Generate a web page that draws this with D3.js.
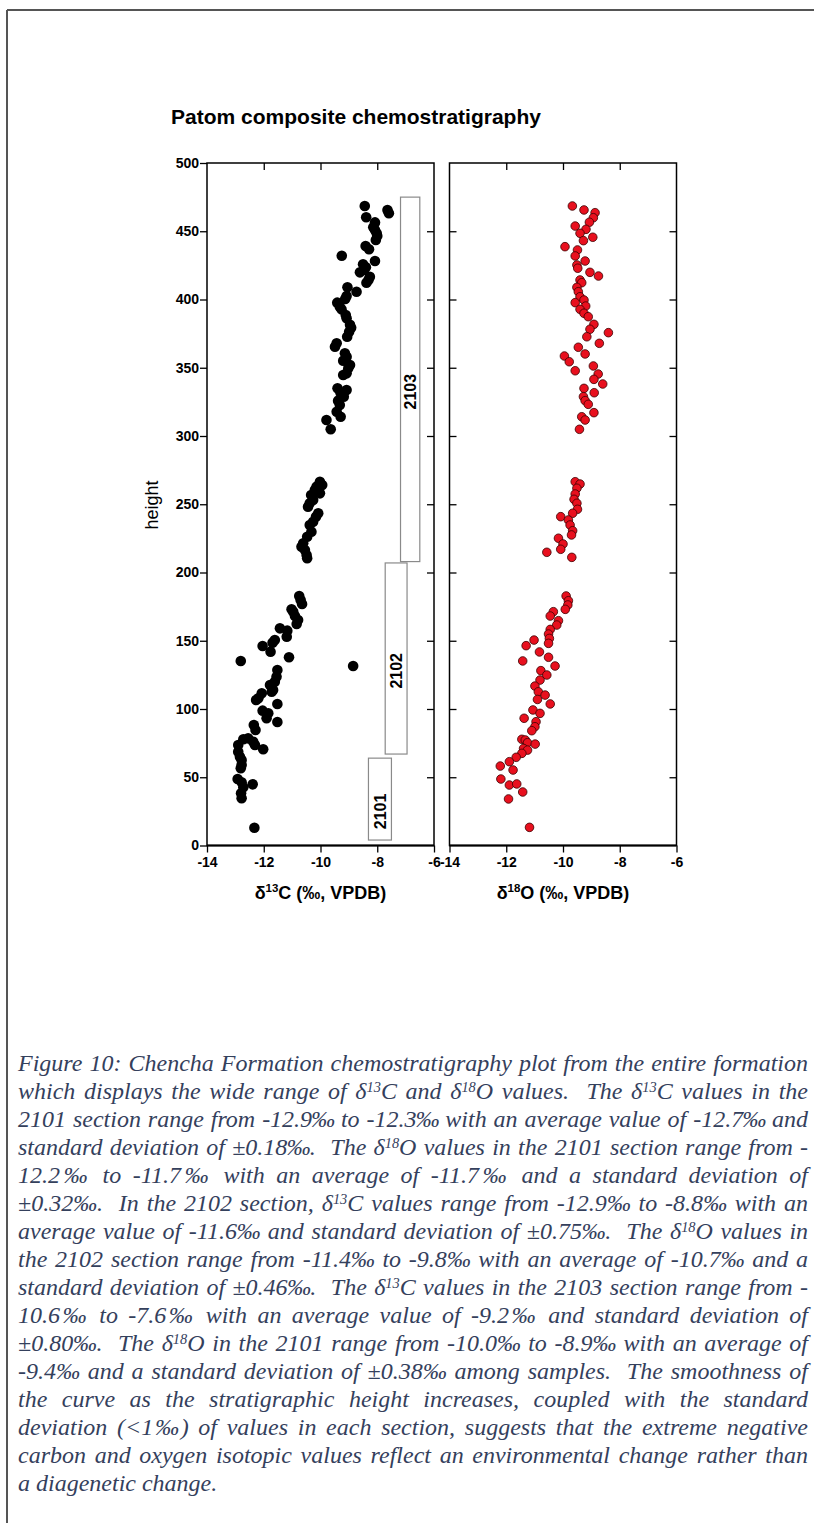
<!DOCTYPE html>
<html>
<head>
<meta charset="utf-8">
<script src="https://cdn.jsdelivr.net/npm/d3@7"></script>
<style>
body { margin: 0; background: #fff; }
.page { position: relative; width: 814px; height: 1523px; overflow: hidden; background: #fff; }
svg { position: absolute; left: 0; top: 0; }
.caption { position: absolute; left: 18px; top: 1049px; width: 790px;
  font-family: "Liberation Serif", "Times New Roman", serif; font-style: italic;
  font-size: 24px; line-height: 28px; color: #34405c; }
.caption div { white-space: nowrap; }
.caption div.just { white-space: normal; text-align: justify; text-align-last: justify; }
.caption div.last { white-space: normal; text-align-last: left; }
.caption sup { font-size: 0.6em; line-height: 0; vertical-align: 0.5em; }
.caption .pm { margin: 0 -2px; }
</style>
</head>
<body>
<div class="page">
  <svg id="chart" width="814" height="1523"></svg>
  <div class="caption" id="caption"></div>
</div>
<script>
//data: [height, per mil]//
let carbonHeight = [468.5, 465.6, 463.2, 460.3, 456.5, 452.9, 450.9, 448.5, 446.5, 443.6, 439.2, 436.8, 432.1, 428.2, 425.8, 423.6, 421.6, 419.9, 416.7, 414.3, 412.3, 408.9, 405.7, 402.6, 400.4, 397.7, 394.7, 392.8, 388.6, 386.2, 381.5, 379.3, 376.4, 372.7, 367.9, 365.4, 360.6, 358.1, 355.2, 352.0, 349.6, 345.9, 344.7, 335.0, 331.3, 328.8, 333.7, 325.9, 322.7, 317.8, 314.1, 311.7, 304.9,
  266.5, 264.1, 262.9, 260.4, 258.0, 256.8, 253.1, 250.7, 248.2, 243.4, 240.9, 237.2, 234.8, 229.9, 226.2, 221.4, 218.9, 216.5, 212.8, 210.4,
  182.8, 179.9, 176.9, 173.0, 171.3, 168.1, 165.2, 162.3, 159.1, 157.4, 153.0, 150.5, 148.6, 146.2, 142.0, 137.9, 135.2, 131.5, 128.6, 123.7, 120.0, 117.6, 113.9, 112.7, 111.5, 107.8, 106.6, 103.7, 98.8, 96.8, 93.2, 90.5, 88.3, 84.6, 78.5, 77.8, 76.0, 73.6, 73.6, 70.5, 68.7, 65.1, 62.6, 59.0, 56.6, 48.7, 46.3, 44.8, 42.6, 38.2, 34.6, 13.0];
let carbonValue = [-8.44, -7.64, -7.59, -8.39, -8.08, -8.14, -8.08, -8.02, -8.00, -8.05, -8.41, -8.29, -9.25, -8.08, -8.50, -8.40, -8.47, -8.61, -8.26, -8.31, -8.38, -9.05, -8.73, -9.08, -9.13, -9.41, -9.32, -9.26, -9.11, -9.08, -8.96, -8.92, -8.99, -9.06, -9.43, -9.49, -9.14, -9.08, -9.20, -8.96, -9.02, -9.08, -9.20, -9.40, -9.29, -9.18, -9.08, -9.38, -9.32, -9.43, -9.29, -9.79, -9.64,
  -10.02, -9.94, -10.14, -10.20, -10.02, -10.33, -10.26, -10.38, -10.44, -10.08, -10.16, -10.26, -10.38, -10.32, -10.47, -10.61, -10.67, -10.55, -10.49, -10.47,
  -10.75, -10.70, -10.65, -11.02, -10.96, -10.90, -10.79, -10.84, -11.43, -11.17, -11.19, -11.61, -11.69, -12.04, -11.76, -11.11, -12.81, -8.85, -11.52, -11.55, -11.61, -11.78, -11.67, -11.72, -12.07, -12.19, -12.27, -11.52, -12.04, -11.84, -11.90, -11.52, -12.35, -12.29, -12.55, -12.72, -12.37, -12.90, -12.31, -12.02, -12.90, -12.84, -12.78, -12.78, -12.81, -12.92, -12.78, -12.39, -12.72, -12.80, -12.78, -12.33];

let oxygenHeight = [468.5, 465.6, 463.6, 459.9, 456.6, 453.8, 451.4, 448.5, 445.6, 443.1, 438.7, 436.3, 431.9, 428.2, 425.3, 422.9, 419.9, 417.2, 414.3, 412.3, 408.9, 405.7, 402.0, 399.6, 397.7, 395.2, 392.8, 389.9, 387.4, 381.8, 378.2, 375.7, 372.7, 367.9, 365.0, 360.1, 358.6, 354.4, 347.8, 351.3, 345.4, 341.5, 338.1, 334.9, 331.7, 328.8, 325.9, 323.2, 317.1, 314.1, 311.7, 304.9,
  266.5, 264.8, 261.7, 257.5, 253.6, 250.7, 246.3, 243.4, 240.9, 238.5, 234.8, 230.6, 227.5, 225.1, 220.9, 217.0, 214.8, 211.1,
  182.8, 179.3, 176.2, 173.0, 171.3, 168.1, 164.7, 161.5, 158.3, 154.9, 151.7, 148.1, 150.5, 146.4, 141.8, 137.9, 135.2, 131.5, 128.1, 124.9, 121.2, 116.8, 112.6, 110.2, 107.0, 103.7, 99.3, 96.8, 93.2, 90.7, 87.0, 84.1, 77.8, 77.3, 75.3, 74.3, 71.1, 69.9, 67.5, 64.6, 61.4, 58.2, 55.3, 48.7, 44.3, 45.1, 39.2, 34.1, 13.3];
let oxygenValue = [-9.67, -9.26, -8.87, -8.93, -9.07, -9.57, -9.19, -9.40, -8.95, -9.28, -9.93, -9.49, -9.57, -9.22, -9.51, -9.48, -9.05, -8.75, -9.40, -9.34, -9.51, -9.46, -9.40, -9.26, -9.57, -9.20, -9.40, -9.26, -9.11, -8.91, -9.05, -8.40, -9.16, -8.72, -9.46, -9.22, -9.95, -9.78, -9.57, -8.93, -8.76, -8.91, -8.60, -9.26, -8.90, -9.28, -9.22, -9.11, -8.91, -9.34, -9.22, -9.42,
  -9.57, -9.40, -9.51, -9.57, -9.61, -9.51, -9.49, -9.66, -10.08, -9.81, -9.75, -9.66, -9.70, -10.16, -10.00, -10.08, -10.57, -9.69,
  -9.89, -9.81, -9.83, -9.92, -10.34, -10.45, -10.16, -10.22, -10.45, -10.51, -10.48, -10.51, -11.02, -11.30, -10.83, -10.51, -11.42, -10.28, -10.78, -10.57, -10.81, -10.99, -10.87, -10.63, -10.90, -10.45, -11.06, -10.81, -11.37, -10.95, -10.99, -11.10, -11.45, -11.33, -11.25, -10.98, -11.39, -11.25, -11.45, -11.65, -11.89, -12.21, -11.76, -12.19, -11.89, -11.63, -11.42, -11.92, -11.18];

//section bars in the carbon panel//
let sectionNames = ['2101', '2102', '2103'];
let sectionBottom = [4, 67, 208];
let sectionTop = [64, 207, 475];
let sectionLeft = [-8.31, -7.72, -7.18];
let sectionRight = [-7.50, -6.95, -6.50];

let xTicks = [-14, -12, -10, -8, -6];
let yTicks = [0, 50, 100, 150, 200, 250, 300, 350, 400, 450, 500];

let captionLines = [
  'Figure 10: Chencha Formation chemostratigraphy plot from the entire formation',
  'which displays the wide range of δ<sup>13</sup>C and δ<sup>18</sup>O values.&nbsp; The δ<sup>13</sup>C values in the',
  '2101 section range from -12.9‰ to -12.3‰ with an average value of -12.7‰ and',
  'standard deviation of ±0.18‰.&nbsp; The δ<sup>18</sup>O values in the 2101 section range from -',
  '12.2‰ to -11.7‰ with an average of -11.7‰ and a standard deviation of',
  '±0.32‰.&nbsp; In the 2102 section, δ<sup>13</sup>C values range from -12.9‰ to -8.8‰ with an',
  'average value of -11.6‰ and standard deviation of ±0.75‰.&nbsp; The δ<sup>18</sup>O values in',
  'the 2102 section range from -11.4‰ to -9.8‰ with an average of -10.7‰ and a',
  'standard deviation of ±0.46‰.&nbsp; The δ<sup>13</sup>C values in the 2103 section range from -',
  '10.6‰ to -7.6‰ with an average value of -9.2‰ and standard deviation of',
  '±0.80‰.&nbsp; The δ<sup>18</sup>O in the 2101 range from -10.0‰ to -8.9‰ with an average of',
  '-9.4‰ and a standard deviation of ±0.38‰ among samples.&nbsp; The smoothness of',
  'the curve as the stratigraphic height increases, coupled with the standard',
  'deviation (&lt;1‰) of values in each section, suggests that the extreme negative',
  'carbon and oxygen isotopic values reflect an environmental change rather than',
  'a diagenetic change.'
];

//scales//
let xC = d3.scaleLinear().domain([-14, -6]).range([207, 434]);
let xO = d3.scaleLinear().domain([-14, -6]).range([449.5, 676.5]);
let y = d3.scaleLinear().domain([0, 500]).range([845.5, 163]);

let font = '"Liberation Sans", Arial, sans-serif';
let svg = d3.select('#chart');

//page frame//
svg.append('line').attr('x1', 7).attr('x2', 814).attr('y1', 10).attr('y2', 10)
  .attr('stroke', '#555').attr('stroke-width', 2);
svg.append('line').attr('x1', 7).attr('x2', 7).attr('y1', 10).attr('y2', 1523)
  .attr('stroke', '#555').attr('stroke-width', 2);

//title//
svg.append('text')
  .attr('x', 356).attr('y', 124)
  .attr('text-anchor', 'middle')
  .style('font-family', font).style('font-weight', 'bold').style('font-size', '21px')
  .text('Patom composite chemostratigraphy');

function styleAxis(g, labels) {
  g.select('.domain').remove();
  g.selectAll('.tick line').attr('stroke', '#000').attr('stroke-width', 1.3);
  g.selectAll('text')
    .style('font-family', font).style('font-weight', 'bold').style('font-size', '14px')
    .attr('fill', '#000');
  if (!labels) g.selectAll('text').remove();
}

function drawPanel(x, withYLabels, label) {
  let bottom = svg.append('g').attr('transform', 'translate(0,' + y(0) + ')')
    .call(d3.axisBottom(x).tickValues(xTicks).tickSize(7).tickPadding(5).tickFormat(d => String(d)));
  styleAxis(bottom, true);

  let top = svg.append('g').attr('transform', 'translate(0,' + y(500) + ')')
    .call(d3.axisBottom(x).tickValues(xTicks.slice(1, -1)).tickSize(7));
  styleAxis(top, false);

  let left;
  if (withYLabels) {
    left = svg.append('g').attr('transform', 'translate(' + x(-14) + ',0)')
      .call(d3.axisLeft(y).tickValues(yTicks).tickSize(7).tickPadding(1).tickFormat(d => String(d)));
    styleAxis(left, true);
  } else {
    left = svg.append('g').attr('transform', 'translate(' + x(-14) + ',0)')
      .call(d3.axisRight(y).tickValues(yTicks.slice(1, -1)).tickSize(7));
    styleAxis(left, false);
  }

  let right = svg.append('g').attr('transform', 'translate(' + x(-6) + ',0)')
    .call(d3.axisLeft(y).tickValues(yTicks.slice(1, -1)).tickSize(7));
  styleAxis(right, false);

  svg.append('rect')
    .attr('x', x(-14)).attr('y', y(500))
    .attr('width', x(-6) - x(-14)).attr('height', y(0) - y(500))
    .attr('fill', 'none').attr('stroke', '#000').attr('stroke-width', 1.5);
  svg.append('line')
    .attr('x1', x(-14)).attr('x2', x(-6)).attr('y1', y(0)).attr('y2', y(0))
    .attr('stroke', '#000').attr('stroke-width', 2.2);

  let t = svg.append('text')
    .attr('x', (x(-14) + x(-6)) / 2).attr('y', 899)
    .attr('text-anchor', 'middle')
    .style('font-family', font).style('font-weight', 'bold').style('font-size', '18px');
  t.append('tspan').text('δ');
  t.append('tspan').attr('dy', -7).style('font-size', '11.5px').text(label[0]);
  t.append('tspan').attr('dy', 7).text(label[1]);
}

drawPanel(xC, true, ['13', 'C (‰, VPDB)']);
drawPanel(xO, false, ['18', 'O (‰, VPDB)']);

//y title//
svg.append('text')
  .attr('transform', 'translate(158,505) rotate(-90)')
  .attr('text-anchor', 'middle')
  .style('font-family', font).style('font-size', '18px')
  .text('height');

//section boxes//
let boxes = svg.selectAll('g.section')
  .data(sectionNames)
  .enter()
  .append('g')
  .attr('class', 'section');

boxes.append('rect')
  .attr('x', (d, i) => xC(sectionLeft[i]))
  .attr('y', (d, i) => y(sectionTop[i]))
  .attr('width', (d, i) => xC(sectionRight[i]) - xC(sectionLeft[i]))
  .attr('height', (d, i) => y(sectionBottom[i]) - y(sectionTop[i]))
  .attr('fill', '#fff')
  .attr('stroke', '#8a8a8a')
  .attr('stroke-width', 1.2);

boxes.append('text')
  .attr('transform', (d, i) => 'translate(' + (xC((sectionLeft[i] + sectionRight[i]) / 2) + 6) + ','
    + y((sectionBottom[i] + sectionTop[i]) / 2 - 9) + ') rotate(-90)')
  .attr('text-anchor', 'middle')
  .style('font-family', font).style('font-weight', 'bold').style('font-size', '16px')
  .text(d => d);

//points//
svg.append('g').selectAll('circle')
  .data(carbonValue)
  .enter()
  .append('circle')
  .attr('cx', d => xC(d))
  .attr('cy', (d, i) => y(carbonHeight[i]))
  .attr('r', 5.3)
  .attr('fill', '#000');

svg.append('g').selectAll('circle')
  .data(oxygenValue)
  .enter()
  .append('circle')
  .attr('cx', d => xO(d))
  .attr('cy', (d, i) => y(oxygenHeight[i]))
  .attr('r', 4.3)
  .attr('fill', '#e8101e')
  .attr('stroke', '#3a0000')
  .attr('stroke-width', 0.8);

//caption: one justified block per printed line//
let lines = d3.select('#caption').selectAll('div')
  .data(captionLines)
  .enter()
  .append('div')
  .append('span')
  .html(d => d.replace(/‰/g, '<span class="pm">‰</span>'));

let maxW = 790;
lines.each(function (d, i) {
  let w = this.getBoundingClientRect().width;
  let n = this.textContent.length;
  if (w > maxW) d3.select(this).style('letter-spacing', (-(w - maxW + 2) / n) + 'px');
  d3.select(this.parentNode).attr('class', i === captionLines.length - 1 ? 'last' : 'just');
});
</script>
</body>
</html>
